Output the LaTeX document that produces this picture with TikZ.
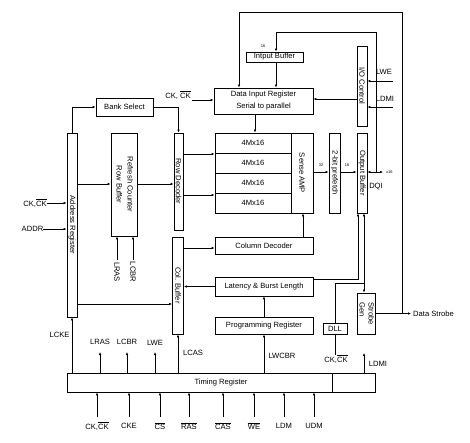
\documentclass[tikz,border=0pt]{standalone}
\usepackage{fontspec}
\setmainfont{Liberation Sans}
\usetikzlibrary{arrows.meta}
\newcommand{\olb}[1]{\ensuremath{\overline{\mbox{#1}}}}
\newcommand{\rt}[1]{\rotatebox{-90}{#1}}
\begin{document}
\begin{tikzpicture}[x=1pt,y=-1pt, font=\fontsize{7.6}{9}\selectfont,
  blk/.style={draw, line width=0.9pt, inner sep=0pt},
  arr/.style={-{Latex[length=3pt,width=2.6pt]}, line width=0.75pt},
  darr/.style={{Latex[length=3pt,width=2.6pt]}-{Latex[length=3pt,width=2.6pt]}, line width=0.75pt},
  ln/.style={line width=0.75pt},
  tinytxt/.style={font=\fontsize{4}{5}\selectfont, inner sep=0pt},
  lbl/.style={inner sep=0pt}]
\useasboundingbox (0,0) rectangle (470,442);

% ---------- blocks ----------
\node[blk, minimum width=57, minimum height=18] (bank) at (124.5,107) {Bank Select};
\node[blk, minimum width=10, minimum height=184] (addr) at (72,225) {\rt{Address Register}};
\node[blk, minimum width=26, minimum height=103] (refr) at (124,184.5)
  {\rt{\begin{tabular}{@{}c@{}}Refresh Counter\\[2pt]Row Buffer\end{tabular}}};
\node[blk, minimum width=9, minimum height=97] (rowdec) at (178.5,181.5) {\rt{Row Decoder}};
\node[blk, minimum width=11, minimum height=97] (colbuf) at (178,285.5) {\rt{Col. Buffer}};
\node[blk, minimum width=99, minimum height=26, align=center] (dir) at (263.5,101)
  {Data Input Register\\[3pt]Serial to parallel};
\node[blk, minimum width=76, minimum height=20] (a1) at (253,143) {4Mx16};
\node[blk, minimum width=76, minimum height=20] (a2) at (253,163) {4Mx16};
\node[blk, minimum width=76, minimum height=20] (a3) at (253,183) {4Mx16};
\node[blk, minimum width=76, minimum height=20] (a4) at (253,203) {4Mx16};
\node[blk, minimum width=22, minimum height=80] (sense) at (302,173) {\rt{Sense AMP}};
\node[blk, minimum width=11, minimum height=80] (pref) at (334.5,173) {\rt{2-bit prefetch}};
\node[blk, minimum width=10, minimum height=80] (outb) at (362,173) {\rt{Output Buffer}};
\node[blk, minimum width=10, minimum height=80] (ioc) at (362,86) {\rt{I/O Control}};
\node[blk, minimum width=57, minimum height=10] (inb) at (274.5,57) {Intput Buffer};
\node[blk, minimum width=98, minimum height=17] (coldec) at (264,245.5) {Column Decoder};
\node[blk, minimum width=98, minimum height=19] (lat) at (264,286.5) {Latency \& Burst Length};
\node[blk, minimum width=98, minimum height=17] (prog) at (264,325.5) {Programming Register};
\node[blk, minimum width=24, minimum height=11] (dll) at (335,328.5) {DLL};
\node[blk, minimum width=18, minimum height=41] (strb) at (366,313.5)
  {\rt{\begin{tabular}{@{}l@{}}Strobe\\Gen\end{tabular}}};
\node[blk, minimum width=308, minimum height=19] (timing) at (221,382.5) {Timing Register};
\coordinate (tdiv) at (332,0);
\draw[line width=0.9pt] (timing.north -| tdiv) -- (timing.south -| tdiv);

% ---------- labels ----------
\node[lbl] (lwe) at (384,72) {LWE};
\node[lbl] (ldmi) at (385,99) {LDMI};
\node[lbl] (ckt) at (178,95) {CK, \olb{CK}};
\node[lbl] (ckl) at (35,203) {CK,\olb{CK}};
\node[lbl] (addrl) at (32.5,229) {ADDR};
\node[lbl, rotate=-90, inner sep=2pt] (lras) at (117,272) {LRAS};
\node[lbl, rotate=-90, inner sep=2pt] (lcbr) at (133,272) {LCBR};
\node[lbl] (lcke) at (59.5,335) {LCKE};
\node[lbl] (tlras) at (100,342) {LRAS};
\node[lbl] (tlcbr) at (127,342) {LCBR};
\node[lbl] (tlwe) at (155,343) {LWE};
\node[lbl] (lcas) at (193,353) {LCAS};
\node[lbl] (lwcbr) at (282,356) {LWCBR};
\node[lbl] (ckd) at (336,359) {CK,\olb{CK}};
\node[lbl] (ldmib) at (378,364) {LDMI};
\node[lbl, anchor=west] (ds) at (413,313.5) {Data Strobe};
\node[lbl] (dqi) at (376,187) {DQI};
\node[tinytxt, anchor=west] (x16) at (386,172) {x16};
\node[tinytxt] (n32) at (321,165) {32};
\node[tinytxt] (n16) at (347,165) {16};
\node[tinytxt] (n16b) at (263,46) {16};

\node[lbl] (b1) at (97,426) {CK,\olb{CK}};
\node[lbl] (b2) at (129,426) {CKE};
\node[lbl] (b3) at (160,426) {\olb{CS}};
\node[lbl] (b4) at (189,426) {\olb{RAS}};
\node[lbl] (b5) at (223,426) {\olb{CAS}};
\node[lbl] (b6) at (254,426) {\olb{WE}};
\node[lbl] (b7) at (284,426) {LDM};
\node[lbl] (b8) at (314,426) {UDM};

% ---------- helper coordinates ----------
\coordinate (jr) at (402,313.5);
\coordinate (tr) at (402,12);
\coordinate (tl) at (239,12);
\coordinate (dq) at (383,172);
\coordinate (jq) at (376,172);
\coordinate (q1) at (376,32);
\coordinate (q2) at (276,32);
\coordinate (lw) at (393,81);
\coordinate (ld) at (393,107);
\coordinate (y99) at (0,99);
\coordinate (x255) at (255,0);
\coordinate (y172) at (0,172);
\coordinate (ck1) at (192,100);
\coordinate (y184) at (0,184);
\coordinate (y154) at (0,154);
\coordinate (y195) at (0,195);
\coordinate (y304) at (0,304);
\coordinate (y248) at (0,248);
\coordinate (x303) at (303,0);
\coordinate (jl) at (358,279);
\coordinate (jd) at (364,283);
\coordinate (xl) at (364,353);
\coordinate (ttop) at (0,352);
\coordinate (bt) at (0,417);

% ---------- connectors ----------
\draw[arr] (jr) -- (tr) -- (tl) -- (tl |- dir.north);
\draw[arr, shorten >=2pt] (strb.east) -- (ds.west);
\draw[darr] (outb.east |- dq) -- (dq);
\draw[arr] (jq) -- (q1) -- (q2) -- (q2 |- inb.north);
\draw[arr] (lw) -- (lw -| ioc.east);
\draw[arr] (ld) -- (ld -| ioc.east);
\draw[arr] (ioc.west |- y99) -- (dir.east |- y99);
\draw[arr] (q2 |- inb.south) -- (q2 |- dir.north);
\draw[arr] (dir.south -| x255) -- (a1.north -| x255);
\draw[arr] (sense.east |- y172) -- (pref.west |- y172);
\draw[arr] (pref.east |- y172) -- (outb.west |- y172);
\draw[arr] (ck1) -- (ck1 -| dir.west);
\draw[arr] (addr.north) |- (bank.west);
\draw[arr] (bank.east) -| (rowdec.north);
\draw[arr] (addr.east |- y184) -- (refr.west |- y184);
\draw[arr] (refr.east |- y184) -- (rowdec.west |- y184);
\draw[arr] (rowdec.east |- y154) -- (a1.west |- y154);
\draw[arr] (rowdec.east |- y195) -- (a4.west |- y195);
\draw[arr] (ckl.east) -- (ckl.east -| addr.west);
\draw[arr] (addrl.east) -- (addrl.east -| addr.west);
\draw[arr] (lras.west) -- (lras.west |- refr.south);
\draw[arr] (lcbr.west) -- (lcbr.west |- refr.south);
\draw[arr] (addr.east |- y304) -- (colbuf.west |- y304);
\draw[arr] (colbuf.east |- y248) -- (coldec.west |- y248);
\draw[arr] (coldec.north -| x303) -- (sense.south -| x303);
\draw[arr] (lat.west) -- (lat.west -| colbuf.east);
\draw[arr] (prog.north) -- (lat.south);
\draw[arr] (lat.east |- jl) -| (jl |- outb.south);
\draw[ln] (dll.north) |- (jd);
\draw[arr] (jd) -- (jd |- outb.south);
\draw[arr] (jd) -- (jd |- strb.north);
\draw[ln] (dll.south) -- (dll.south |- ckd.north);
\draw[arr] (timing.north -| xl) -- (xl);
\draw[arr] (timing.north -| addr) -- (addr.south);
\draw[arr] (timing.north -| tlras) -- (tlras |- ttop);
\draw[arr] (timing.north -| tlcbr) -- (tlcbr |- ttop);
\draw[arr] (timing.north -| tlwe) -- (tlwe |- ttop);
\draw[arr] (timing.north -| colbuf) -- (colbuf.south);
\draw[arr] (timing.north -| prog) -- (prog.south);
\foreach \b in {b1,b2,b3,b4,b5,b6,b7,b8}
  \draw[arr] (\b |- bt) -- (\b |- timing.south);
\end{tikzpicture}
\end{document}
